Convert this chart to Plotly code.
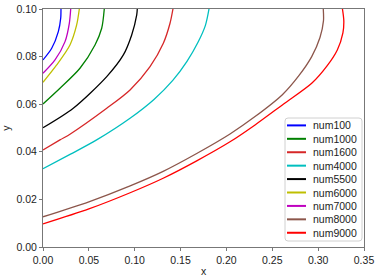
import plotly.graph_objects as go

names = ["num100", "num1000", "num1600", "num4000", "num5500", "num6000", "num7000", "num8000", "num9000"]
colors = ["#0000ff", "#008000", "#d62728", "#00bfbf", "#000000", "#bfbf00", "#bf00bf", "#8c564b", "#ff0000"]

x_num100 = [0.0, 0.0095, 0.0167, 0.0193, 0.0196]
y_num100 = [0.0786, 0.0835, 0.0905, 0.0961, 0.100]

x_num1000 = [0.0, 0.0185, 0.0403, 0.0567, 0.0640, 0.0668]
y_num1000 = [0.0601, 0.0667, 0.0751, 0.0849, 0.0919, 0.100]

x_num1600 = [0.0, 0.0185, 0.0294, 0.0695, 0.0949, 0.1167, 0.1312, 0.1385, 0.1417]
y_num1600 = [0.0408, 0.0450, 0.0474, 0.0583, 0.0660, 0.0758, 0.0856, 0.0940, 0.100]

x_num4000 = [0.0, 0.0300, 0.0585, 0.0949, 0.1210, 0.1415, 0.1570, 0.1690, 0.1770, 0.1810]
y_num4000 = [0.0329, 0.0390, 0.0450, 0.0541, 0.0620, 0.0700, 0.0780, 0.0860, 0.0930, 0.100]

x_num5500 = [0.0, 0.0330, 0.0695, 0.0876, 0.0967, 0.1022, 0.1028]
y_num5500 = [0.0501, 0.0583, 0.0716, 0.0807, 0.0891, 0.0975, 0.100]

x_num6000 = [0.0, 0.0149, 0.0294, 0.0367, 0.0396]
y_num6000 = [0.0692, 0.0765, 0.0849, 0.0933, 0.100]

x_num7000 = [0.0, 0.0131, 0.0240, 0.0287, 0.0302]
y_num7000 = [0.0730, 0.0786, 0.0863, 0.0940, 0.100]

x_num8000 = [0.0, 0.050, 0.095, 0.131, 0.1676, 0.2039, 0.2312, 0.2610, 0.2790, 0.2930, 0.3020, 0.3058, 0.3056]
y_num8000 = [0.0127, 0.0190, 0.0257, 0.0318, 0.0393, 0.0475, 0.0548, 0.0640, 0.0720, 0.0800, 0.0880, 0.0950, 0.100]

x_num9000 = [0.0, 0.050, 0.095, 0.131, 0.1676, 0.2039, 0.2312, 0.2620, 0.2930, 0.3095, 0.3209, 0.3270, 0.3280, 0.3265]
y_num9000 = [0.0097, 0.0160, 0.0228, 0.0289, 0.0362, 0.0442, 0.0513, 0.0600, 0.0688, 0.0760, 0.0828, 0.0900, 0.0950, 0.100]

xs = [x_num100, x_num1000, x_num1600, x_num4000, x_num5500, x_num6000, x_num7000, x_num8000, x_num9000]
ys = [y_num100, y_num1000, y_num1600, y_num4000, y_num5500, y_num6000, y_num7000, y_num8000, y_num9000]

x_ticks = [0.00, 0.05, 0.10, 0.15, 0.20, 0.25, 0.30, 0.35]
y_ticks = [0.00, 0.02, 0.04, 0.06, 0.08, 0.10]

# plot area geometry (pixels)
W, H = 378, 280
L, R, T, B = 43, 14, 9, 33
PW, PH = W - L - R, H - T - B


def px(xp):
    return (xp - L) / PW


def py(yp):
    return (H - B - yp) / PH


fig = go.Figure()
for n, c, xv, yv in zip(names, colors, xs, ys):
    fig.add_trace(go.Scatter(x=xv, y=yv, mode="lines", name=n, showlegend=False,
                             line=dict(color=c, width=1.3, shape="spline", smoothing=0.8)))

# custom legend (box, line samples, labels)
bx0, bx1, by0, by1, rr = 285, 362, 118, 241, 3
path = (f"M {px(bx0 + rr)} {py(by0)} L {px(bx1 - rr)} {py(by0)} "
        f"Q {px(bx1)} {py(by0)} {px(bx1)} {py(by0 + rr)} L {px(bx1)} {py(by1 - rr)} "
        f"Q {px(bx1)} {py(by1)} {px(bx1 - rr)} {py(by1)} L {px(bx0 + rr)} {py(by1)} "
        f"Q {px(bx0)} {py(by1)} {px(bx0)} {py(by1 - rr)} L {px(bx0)} {py(by0 + rr)} "
        f"Q {px(bx0)} {py(by0)} {px(bx0 + rr)} {py(by0)} Z")
shapes = [dict(type="path", path=path, xref="paper", yref="paper",
               fillcolor="rgba(255,255,255,0.9)", line=dict(color="#d0d0d0", width=1))]
annotations = []
for i, (n, c) in enumerate(zip(names, colors)):
    yc = 125.4 + i * 13.42
    shapes.append(dict(type="line", xref="paper", yref="paper",
                       x0=px(287), x1=px(306), y0=py(yc), y1=py(yc),
                       line=dict(color=c, width=2)))
    annotations.append(dict(text=n, xref="paper", yref="paper", x=px(311), y=py(yc),
                            xanchor="left", yanchor="middle", showarrow=False,
                            font=dict(size=10.5, color="#222222")))

axis_common = dict(showgrid=False, zeroline=False, showline=True, mirror=True,
                   linecolor="#777777", linewidth=1, ticks="outside", ticklen=3,
                   tickcolor="#777777", tickfont=dict(size=10.5, color="#222222"),
                   automargin=False)

fig.update_layout(
    width=W, height=H,
    margin=dict(l=L, r=R, t=T, b=B),
    plot_bgcolor="white", paper_bgcolor="white",
    font=dict(family="Liberation Sans, Arial, sans-serif", size=10.5, color="#222222"),
    xaxis=dict(range=[0, 0.35], tickvals=x_ticks, tickformat=".2f",
               title=dict(text="x", standoff=3, font=dict(size=10.5)), **axis_common),
    yaxis=dict(range=[0, 0.1], tickvals=y_ticks, tickformat=".2f",
               title=dict(text="y", standoff=6, font=dict(size=10.5)), **axis_common),
    shapes=shapes,
    annotations=annotations,
    showlegend=False,
)

fig.write_html("out.html", config={"displayModeBar": False},
               post_script="document.body.style.margin='0px';")
